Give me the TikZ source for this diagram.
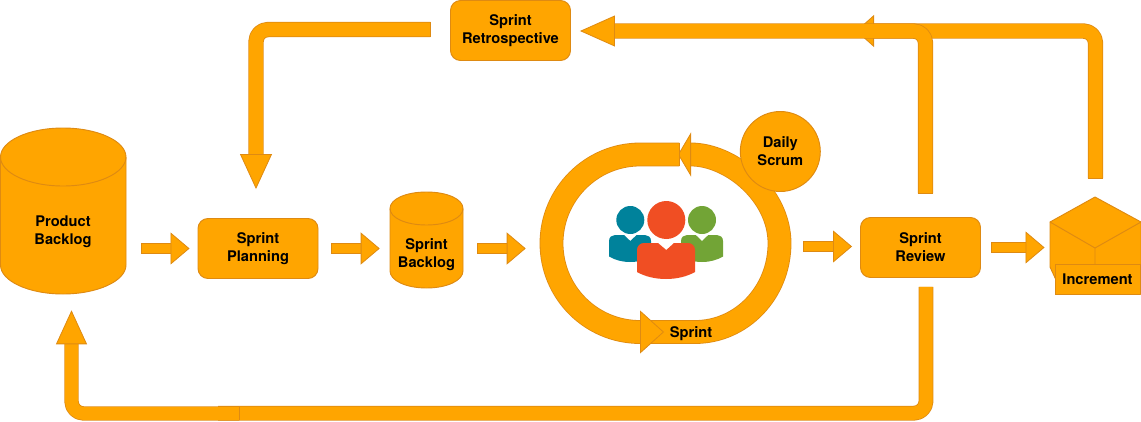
\documentclass[tikz,border=0pt]{standalone}
\usepackage{fontspec}
\setmainfont{TeX Gyre Heros}
\usetikzlibrary{arrows.meta,calc}
\definecolor{fillo}{HTML}{FFA500}
\definecolor{edgeo}{HTML}{DE8A12}
\definecolor{pblue}{HTML}{00829B}
\definecolor{pred}{HTML}{F04E23}
\definecolor{pgreen}{HTML}{72A436}
\tikzset{
  shapeo/.style={fill=fillo,draw=edgeo,line width=.7pt,line join=round},
  lab/.style={font=\fontsize{11}{13.5}\selectfont\bfseries,align=center,text=black,inner sep=0pt},
  boxo/.style={shapeo,lab,rounded corners=7.5pt,minimum width=90pt,minimum height=45pt},
  % #1 shaft width, #2 head length, #3 head width (all px)
  fat/.style n args={3}{draw=edgeo,line width=.6pt,double=fillo,double distance=#1*.75pt-.6pt,line join=round,
    {Bar[width=#1*.75pt,line width=.6pt,color=edgeo]}-{Triangle[length=#2*.75pt,width=#3*.75pt,fill=fillo,color=edgeo,line width=.6pt]}},
  short/.style={fat={10.5}{19}{32}},
  long/.style={rounded corners=9pt}
}
\begin{document}
\begin{tikzpicture}[x=.75pt,y=-.75pt]
\useasboundingbox (0,0) rectangle (1141,421);
% product backlog cylinder
\path[shapeo] (0.5,157) -- (0.5,265) .. controls (0.5,281) and (28.5,294) .. (63,294) .. controls (97.5,294) and (126,281) .. (126,265) -- (126,157) .. controls (126,141) and (97.5,128) .. (63,128) .. controls (28.5,128) and (0.5,141) .. (0.5,157) -- cycle;
\draw[edgeo,line width=.7pt] (0.5,157) .. controls (0.5,173) and (28.5,186) .. (63,186) .. controls (97.5,186) and (126,173) .. (126,157);
\node[lab,minimum width=94.5pt,minimum height=124.5pt] (pb) at (63,211) {};
\node[lab] (pbt) at (63,231.5) {Product\\Backlog};
% sprint planning
\node[boxo] (sp) at (258,248.5) {Sprint\\Planning};
% sprint backlog cylinder
\path[shapeo] (390,208.5) -- (390,271) .. controls (390,280.5) and (406,288) .. (426.5,288) .. controls (447,288) and (463,280.5) .. (463,271) -- (463,208.5) .. controls (463,199) and (447,192) .. (426.5,192) .. controls (406,192) and (390,199) .. (390,208.5) -- cycle;
\draw[edgeo,line width=.7pt] (390,208.5) .. controls (390,218) and (406,225) .. (426.5,225) .. controls (447,225) and (463,218) .. (463,208.5);
\node[lab,minimum width=54.75pt,minimum height=72pt] (sb) at (426.5,240) {};
\node[lab] (sbt) at (426.5,255) {Sprint\\Backlog};
% sprint loop anchor
\node[inner sep=0pt,minimum width=188.25pt,minimum height=150pt] (loop) at (665.5,243.5) {};
% sprint review
\node[boxo] (rev) at (920.5,247.5) {Sprint\\Review};
% retrospective
\node[boxo] (retro) at (510.5,30.5) {Sprint\\Retrospective};
% increment
\path[shapeo] (1095,197) -- (1141,222) -- (1141,280) -- (1056,280) -- (1050,267) -- (1050,222) -- cycle;
\draw[edgeo,line width=.7pt] (1050,222) -- (1095,248) -- (1141,222) (1095,248) -- (1095,266);
\node[shapeo,lab,rounded corners=0pt,minimum width=63.75pt,minimum height=22.5pt] (inc) at (1097.5,279.5) {Increment};
% short connectors
\draw[short,shorten <=11.25pt,shorten >=6pt] (pb.east |- sp.west) -- (sp.west);
\draw[short,shorten <=9.75pt,shorten >=7.5pt] (sp.east) -- (sb.west |- sp.east);
\draw[short,shorten <=10.5pt,shorten >=10.5pt] (sb.east |- sp.east) -- (loop.west |- sp.east);
\draw[short,shorten <=9pt,shorten >=6pt] ([yshift=.75pt]loop.east |- rev.west) -- ([yshift=.75pt]rev.west);
\draw[short,shorten <=7.5pt,shorten >=7.5pt] (rev.east) -- (inc.west |- rev.east);
% long connectors
\coordinate (c1) at (1095.5,31);
\coordinate (c2) at (925.5,31);
\coordinate (c3) at (256,29.5);
\coordinate (c4) at (926,413.2);
\coordinate (c5) at (218,413.2);
\coordinate (c6) at (240,413.5);
\coordinate (c7) at (71.5,413.5);
\coordinate (c8) at (856,31);
\draw[fat={14.5}{18}{32},long] (c1 |- inc.north) ++(0,-85) -- (c1) -- (c8);
\draw[fat={14.5}{35}{31},long,shorten <=17.25pt,shorten >=6.75pt] (c2 |- rev.north) -- (c2) -- (retro.east |- c2);
\draw[fat={14.5}{35}{32},long,shorten <=14.25pt,shorten >=21.75pt] (retro.west |- c3) -- (c3) -- (c3 |- sp.north);
\draw[fat={14}{1}{1},long,-,shorten <=6.75pt] (c4 |- rev.south) -- (c4) -- (c5);
\draw[fat={13.5}{34}{31},long,shorten >=12pt] (c6) -- (c7) -- (c7 |- pb.south);
% sprint loop
\draw[fat={23}{13}{44}] (650,332) -- (695,332) .. controls (741.7,332) and (779.5,292.4) .. (779.5,243.3) .. controls (779.5,194.2) and (730.6,154.5) .. (691,154.5) -- (678,154.5);
\draw[fat={23}{24}{43}] (680,154.5) -- (640,154.5) .. controls (591.1,154.5) and (551.5,194.6) .. (551.5,243.3) .. controls (551.5,292.4) and (591.1,332) .. (640,332) -- (664,332);
\node[shapeo,lab,circle,minimum size=60pt] (ds) at (780.3,151.5) {Daily\\Scrum};
\node[lab] (sprintlab) at (691,333.5) {Sprint};
% people
\fill[pblue] (630.3,220) circle[radius=14];
\fill[pblue] (609,241) .. controls (609,237) and (612,235) .. (615,235) -- (624,235) -- (630.3,241) -- (636.6,235) -- (645,235) .. controls (648,235) and (651,237) .. (651,241) -- (651,257) .. controls (645,260.5) and (637,262) .. (630,262) .. controls (622,262) and (615,260) .. (609,256.5) -- cycle;
\fill[pgreen] (702,220) circle[radius=14];
\fill[pgreen] (681,241) .. controls (681,237) and (684,235) .. (687,235) -- (695.7,235) -- (702,241) -- (708.3,235) -- (717,235) .. controls (720,235) and (723,237) .. (723,241) -- (723,256.5) .. controls (717,260) and (710,262) .. (702,262) .. controls (695,262) and (687,260.5) .. (681,257) -- cycle;
\fill[pred] (666.3,220) circle[radius=19];
\fill[pred] (637,250) .. controls (637,246) and (640,243) .. (644,243) -- (658,243) -- (666.3,250) -- (674,243) -- (688,243) .. controls (692,243) and (695,246) .. (695,250) -- (695,272) .. controls (687,276.5) and (677,279) .. (666,279) .. controls (655,279) and (645,276.5) .. (637,272) -- cycle;
\end{tikzpicture}
\end{document}
